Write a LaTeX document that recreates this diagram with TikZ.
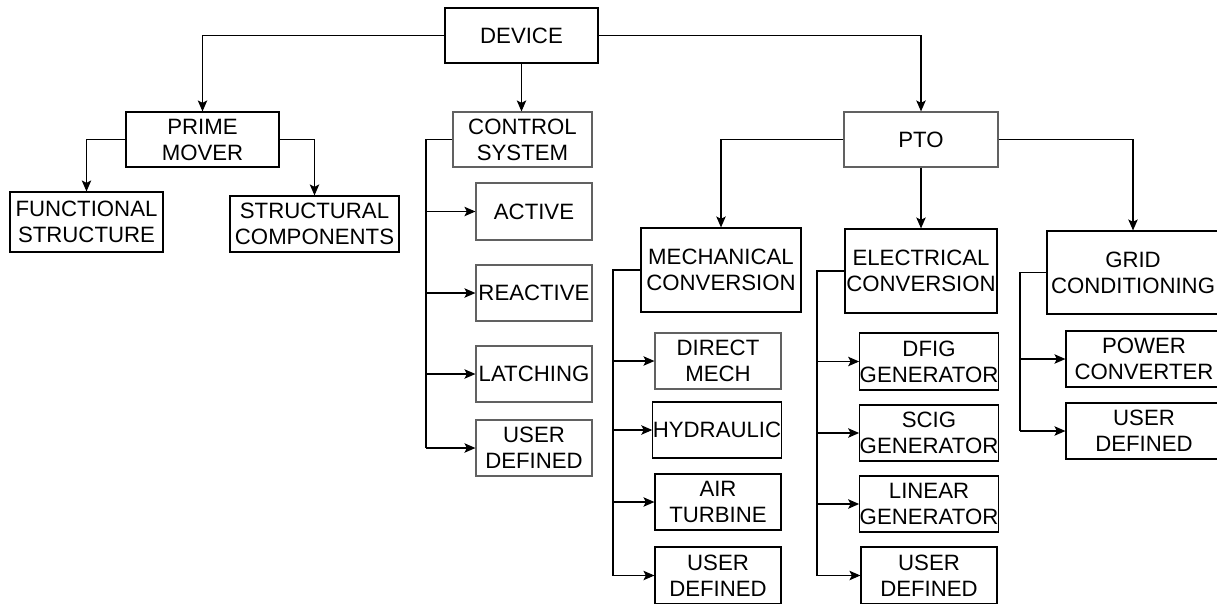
\documentclass[tikz,border=0pt]{standalone}
\usepackage{fontspec}
\setmainfont{Liberation Sans}
\usetikzlibrary{arrows.meta}
\begin{document}
\begin{tikzpicture}[x=1pt,y=-1pt,
  box/.style={draw=black, line width=1.2pt, align=center, inner sep=0pt,
    font=\fontsize{22.2}{26}\selectfont},
  gbox/.style={box, draw=black!62},
  sz/.style 2 args={minimum width=#1pt, minimum height=#2pt},
  link/.style={line width=1.1pt},
  arr/.style={link, -{Stealth[length=11pt,width=9.5pt,inset=2.5pt]}}
]
\useasboundingbox (0,0) rectangle (1217,603);

% top level
\node[box, sz={153}{55}] (device) at (521.5,35.5) {DEVICE};

% prime mover branch
\node[box, sz={153}{55}] (prime) at (202.5,139.5) {PRIME\\MOVER};
\node[box, sz={153}{60}] (func) at (86.5,222) {FUNCTIONAL\\STRUCTURE};
\node[box, sz={169}{56}] (struct) at (314.5,224) {STRUCTURAL\\COMPONENTS};

% control system branch
\node[gbox, sz={139}{55}] (control) at (522.5,139.5) {CONTROL\\SYSTEM};
\node[gbox, sz={116}{57}] (active) at (534,211.5) {ACTIVE};
\node[gbox, sz={116}{56}] (reactive) at (534,293) {REACTIVE};
\node[gbox, sz={116}{56}] (latching) at (534,374) {LATCHING};
\node[gbox, sz={116}{56}] (cud) at (534,448) {USER\\DEFINED};

% power take-off branch
\node[gbox, sz={154}{55}] (pto) at (921,139.5) {PTO};
\node[box, sz={160}{84}] (mech) at (721,270) {MECHANICAL\\CONVERSION};
\node[box, sz={152}{84}] (elec) at (921,271) {ELECTRICAL\\CONVERSION};
\node[box, sz={172}{83}] (grid) at (1133,272.5) {GRID\\CONDITIONING};

% mechanical conversion options
\node[gbox, sz={126}{56}] (dmech) at (718,361) {DIRECT\\MECH};
\node[box, sz={126}{56}] (hydr) at (717,430) {HYDRAULIC};
\node[box, sz={126}{56}] (air) at (718,502) {AIR\\TURBINE};
\node[box, sz={126}{57}] (mud) at (718,575.5) {USER\\DEFINED};

% electrical conversion options
\node[box, sz={136}{57}] (dfig) at (929,361.5) {DFIG\\GENERATOR};
\node[box, sz={136}{56}] (scig) at (929,433) {SCIG\\GENERATOR};
\node[box, sz={136}{56}] (lin) at (929,504) {LINEAR\\GENERATOR};
\node[box, sz={136}{57}] (eud) at (929,575.5) {USER\\DEFINED};

% grid conditioning options
\node[box, sz={156}{56}] (pc) at (1144,359) {POWER\\CONVERTER};
\node[box, sz={156}{56}] (gud) at (1144,431) {USER\\DEFINED};

% trunk lines of the option lists
\coordinate (ctr) at (426,0);
\coordinate (mtr) at (613,0);
\coordinate (etr) at (817,0);
\coordinate (gtr) at (1020,0);

% device connections
\draw[arr] (device.west) -| (prime.north);
\draw[arr] (device.east) -| (pto.north);
\draw[arr] (device.south) -- (device.south |- control.north);

% prime mover connections
\draw[arr] (prime.west) -| (func.north);
\draw[arr] (prime.east) -| (struct.north);

% control system list
\draw[link] (control.west) -| (ctr |- cud.west);
\draw[arr] (ctr |- active.west) -- (active.west);
\draw[arr] (ctr |- reactive.west) -- (reactive.west);
\draw[arr] (ctr |- latching.west) -- (latching.west);
\draw[arr] (ctr |- cud.west) -- (cud.west);

% PTO connections
\draw[arr] (pto.west) -| (mech.north);
\draw[arr] (pto.south) -- (elec.north);
\draw[arr] (pto.east) -| (grid.north);

% mechanical list
\draw[link] (mech.west) -| (mtr |- mud.west);
\draw[arr] (mtr |- dmech.west) -- (dmech.west);
\draw[arr] (mtr |- hydr.west) -- (hydr.west);
\draw[arr] (mtr |- air.west) -- (air.west);
\draw[arr] (mtr |- mud.west) -- (mud.west);

% electrical list
\draw[link] (elec.west) -| (etr |- eud.west);
\draw[arr] (etr |- dfig.west) -- (dfig.west);
\draw[arr] (etr |- scig.west) -- (scig.west);
\draw[arr] (etr |- lin.west) -- (lin.west);
\draw[arr] (etr |- eud.west) -- (eud.west);

% grid list
\draw[link] (grid.west) -| (gtr |- gud.west);
\draw[arr] (gtr |- pc.west) -- (pc.west);
\draw[arr] (gtr |- gud.west) -- (gud.west);
\end{tikzpicture}
\end{document}
